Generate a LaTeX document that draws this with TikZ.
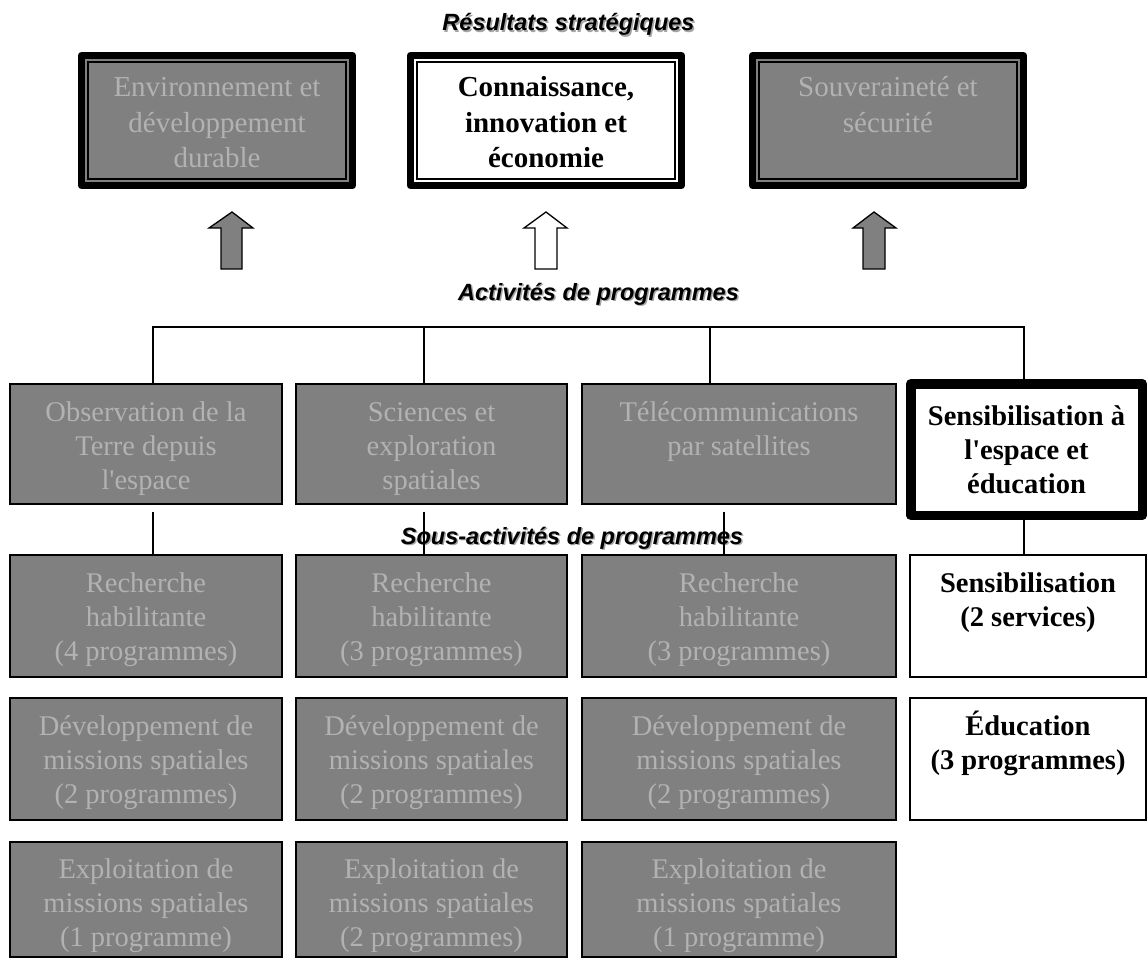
\documentclass[tikz,border=0pt]{standalone}
\usepackage{fontspec}
\setmainfont{Liberation Serif}
\newfontfamily\headfont{Liberation Sans}

\definecolor{boxgray}{RGB}{128,128,128}
\definecolor{dimtext}{RGB}{178,178,178}
\definecolor{shade}{RGB}{165,165,165}

% box contents: width, height, first-baseline offset, lines
\newcommand\cell[4]{\parbox[c][#2pt][t]{#1pt}{\centering\rule{0pt}{#3pt}#4}}
% heading text with a soft drop shadow
\newcommand\shadowtext[1]{\rlap{\hspace{1.5pt}\raisebox{-1.5pt}{\color{shade}#1}}#1}

\begin{document}
\begin{tikzpicture}[x=1pt,y=-1pt,
  outcome/.style={draw=black, line width=7pt, line join=round, inner sep=0pt, outer sep=0pt},
  outgray/.style={outcome, fill=boxgray, text=dimtext, font=\fontsize{29}{35.5}\selectfont},
  outwhite/.style={outcome, fill=white, text=black, font=\fontsize{29}{35.5}\selectfont\bfseries},
  sub/.style={draw=black, line width=1.3pt, inner sep=0pt},
  subgray/.style={sub, fill=boxgray, text=dimtext, font=\fontsize{28.5}{34}\selectfont},
  subwhite/.style={sub, fill=white, text=black, font=\fontsize{28.5}{34}\selectfont\bfseries},
  focus/.style={draw=black, line width=9.5pt, line join=round, fill=white, text=black, inner sep=0pt,
    font=\fontsize{28.5}{34}\selectfont\bfseries},
  heading/.style={font=\headfont\bfseries\itshape\fontsize{23.5}{28}\selectfont, anchor=base, inner sep=0pt},
  conn/.style={draw=black, line width=1.3pt},
  blockarrow/.style={draw=black, line width=1.3pt, line join=miter},
]
\useasboundingbox[fill=white] (0,0) rectangle (1148,960);

% strategic outcomes
\node[heading] (hres) at (568.5,31) {\shadowtext{Résultats stratégiques}};
\node[outgray] (e1) at (217,120.5) {\cell{271}{130}{41.5}{Environnement et\\développement\\durable}};
\node[outwhite] (e2) at (546,120.5) {\cell{271}{130}{41.5}{Connaissance,\\innovation et\\économie}};
\node[outgray] (e3) at (888,120.5) {\cell{271}{130}{41.5}{Souveraineté et\\sécurité}};
\foreach \n in {e1,e2,e3}
  \draw[line width=1.2pt] ([shift={(6.5,6.5)}]\n.north west) rectangle ([shift={(-6.5,-6.5)}]\n.south east);

% block arrows
\draw[blockarrow, fill=boxgray] (221,269) -- (221,228) -- (209,228) -- (232,212) -- (253,228) -- (242,228) -- (242,269) -- cycle;
\draw[blockarrow, fill=white] (535,269) -- (535,228) -- (524,228) -- (546,212) -- (567,228) -- (557,228) -- (557,269) -- cycle;
\draw[blockarrow, fill=boxgray] (863,269) -- (863,228) -- (853,228) -- (874,212) -- (896,228) -- (885,228) -- (885,269) -- cycle;

% program activities
\node[heading] (hact) at (598.5,300) {\shadowtext{Activités de programmes}};
\node[subgray] (a1) at (146,444) {\cell{272}{120}{37}{Observation de la\\Terre depuis\\l\textquotesingle espace}};
\node[subgray] (a2) at (431.5,444) {\cell{271}{120}{37}{Sciences et\\exploration\\spatiales}};
\node[subgray] (a3) at (739,444) {\cell{314}{120}{37}{Télécommunications\\par satellites}};
\node[focus] (a4) at (1026.5,449.5) {\cell{231.5}{131.5}{41.25}{Sensibilisation à\\l\textquotesingle espace et\\éducation}};

% program sub-activities
\node[heading] (hsub) at (572,544) {\shadowtext{Sous-activités de programmes}};
\node[subgray] (b1) at (146,616) {\cell{272}{122}{37}{Recherche\\habilitante\\(4 programmes)}};
\node[subgray] (b2) at (431.5,616) {\cell{271}{122}{37}{Recherche\\habilitante\\(3 programmes)}};
\node[subgray] (b3) at (739,616) {\cell{314}{122}{37}{Recherche\\habilitante\\(3 programmes)}};
\node[subwhite] (s1) at (1028,616) {\cell{236}{122}{37}{Sensibilisation\\(2 services)}};

\node[subgray] (c1) at (146,759) {\cell{272}{122}{37}{Développement de\\missions spatiales\\(2 programmes)}};
\node[subgray] (c2) at (431.5,759) {\cell{271}{122}{37}{Développement de\\missions spatiales\\(2 programmes)}};
\node[subgray] (c3) at (739,759) {\cell{314}{122}{37}{Développement de\\missions spatiales\\(2 programmes)}};
\node[subwhite] (s2) at (1028,759) {\cell{236}{122}{37}{Éducation\\(3 programmes)}};

\node[subgray] (d1) at (146,899.5) {\cell{272}{115}{36}{Exploitation de\\missions spatiales\\(1 programme)}};
\node[subgray] (d2) at (431.5,899.5) {\cell{271}{115}{36}{Exploitation de\\missions spatiales\\(2 programmes)}};
\node[subgray] (d3) at (739,899.5) {\cell{314}{115}{36}{Exploitation de\\missions spatiales\\(1 programme)}};

% connector bus
\coordinate (t1) at (153,327);
\coordinate (t2) at (424,327);
\coordinate (t3) at (710,327);
\coordinate (t4) at (1024,327);
\coordinate (t3b) at (724,327);
\draw[conn] (t1 |- a1.north) -- (t1) -- (t4) -- (t4 |- a4.north);
\draw[conn] (t2) -- (t2 |- a2.north);
\draw[conn] (t3) -- (t3 |- a3.north);

% links to sub-activities
\draw[conn, shorten <=7pt] (t1 |- a1.south) -- (t1 |- b1.north);
\draw[conn, shorten <=7pt] (t2 |- a2.south) -- (t2 |- b2.north);
\draw[conn, shorten <=7pt] (t3b |- a3.south) -- (t3b |- b3.north);
\draw[conn] (t4 |- a4.south) -- (t4 |- s1.north);
\end{tikzpicture}
\end{document}
